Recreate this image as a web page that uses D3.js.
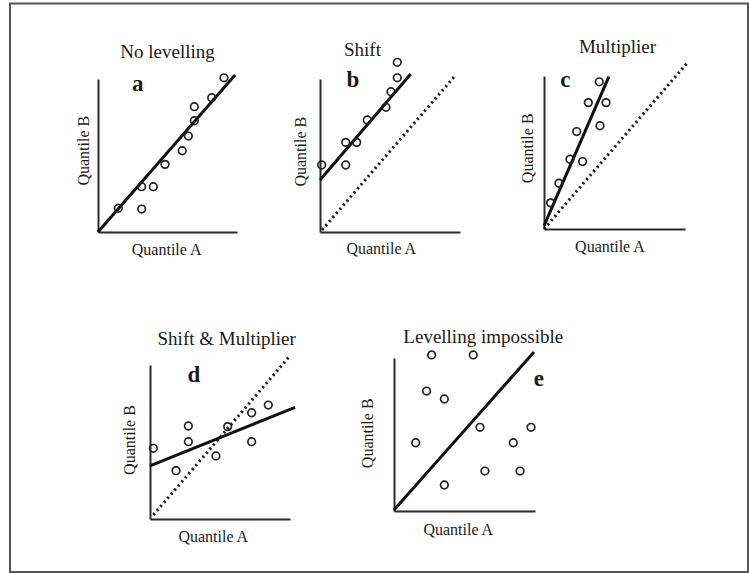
<!DOCTYPE html>
<html>
<head>
<meta charset="utf-8">
<script src="https://cdn.jsdelivr.net/npm/d3@7"></script>
<style>
  html, body { margin: 0; padding: 0; background: #fff; }
  svg { display: block; }
  text { font-family: "Liberation Serif", "Times New Roman", serif; fill: #1a1a1a; }
</style>
</head>
<body>
<svg id="chart" width="749" height="573"></svg>
<script>
// ---- data (axis units: each axis runs 0..10) ----
const panelIds = ["a", "b", "c", "d", "e"];
const panelTitles = ["No levelling", "Shift", "Multiplier", "Shift & Multiplier", "Levelling impossible"];
const xLabel = "Quantile A";
const yLabel = "Quantile B";

const pointsA = [[1.46,1.55],[3.14,2.96],[3.98,2.96],[3.14,1.50],[4.82,4.42],[6.06,5.31],[6.50,6.27],[6.93,7.27],[6.93,8.19],[8.18,8.78],[9.06,10.08]];
const pointsB = [[0.12,4.38],[1.84,4.38],[1.84,5.86],[2.62,5.86],[3.38,7.32],[4.71,8.15],[5.07,9.17],[5.52,10.08],[5.52,11.09]];
const pointsC = [[0.47,1.71],[1.06,2.99],[1.84,4.56],[2.74,4.41],[2.32,6.37],[3.97,6.75],[3.14,8.26],[4.40,8.26],[3.92,9.62]];
const pointsD = [[0.24,4.59],[1.86,3.14],[2.74,5.02],[2.74,6.04],[4.71,4.09],[5.55,6.00],[7.26,5.02],[7.26,6.90],[8.45,7.40]];
const pointsE = [[2.67,10.2],[5.62,10.2],[2.31,7.84],[3.57,7.32],[1.54,4.46],[6.10,5.47],[9.72,5.47],[8.46,4.46],[6.45,2.61],[8.94,2.61],[3.57,1.70]];

// fitted (solid) lines: [start, end]
const fitA = [[0,0],[9.86,10.26]];
const fitB = [[0,3.4],[6.48,10.33]];
const fitC = [[0,0.2],[4.60,9.96]];
const fitD = [[0,3.45],[10.36,7.25]];
const fitE = [[0,0.07],[9.93,10.39]];

// 1:1 reference (dotted) lines; null = not drawn
const refA = null;
const refB = [[0.14,0.13],[9.64,10.2]];
const refC = [[0,0],[10.24,10.94]];
const refD = [[0.24,0.26],[10,10.6]];
const refE = null;

const allPoints = [pointsA, pointsB, pointsC, pointsD, pointsE];
const allFits = [fitA, fitB, fitC, fitD, fitE];
const allRefs = [refA, refB, refC, refD, refE];

// ---- layout (pixels) ----
const layout = [
  { x0: 98,  y0: 232, w: 139, h: 153, title: [167.5, 58], id: [137.7, 91],  xl: [166.7, 255], yl: [89, 150.7] },
  { x0: 320, y0: 232, w: 140, h: 153, title: [362.5, 56], id: [353, 87.3],  xl: [381.3, 254], yl: [306, 151.7] },
  { x0: 544, y0: 229, w: 141, h: 153, title: [617.5, 52.7], id: [565.3, 86.7], xl: [610, 251.7], yl: [533, 148.3] },
  { x0: 150, y0: 519, w: 140, h: 154, title: [226.7, 345], id: [194, 381.7], xl: [213.3, 541.7], yl: [135, 440] },
  { x0: 394, y0: 511, w: 141, h: 153, title: [483.3, 343.3], id: [538.8, 386], xl: [458.3, 535], yl: [373, 433.3] }
];

const svg = d3.select("#chart");

// outer frame
svg.append("rect")
  .attr("x", 10).attr("y", 3.5).attr("width", 738).attr("height", 568.5)
  .attr("fill", "none").attr("stroke", "#555").attr("stroke-width", 2);

panelIds.forEach((pid, i) => {
  const L = layout[i];
  const x = d3.scaleLinear().domain([0, 10]).range([L.x0, L.x0 + L.w]);
  const y = d3.scaleLinear().domain([0, 10]).range([L.y0, L.y0 - L.h]);
  const g = svg.append("g");

  // axes (domain lines only)
  const xAxis = g.append("g").attr("transform", `translate(0,${L.y0})`)
    .call(d3.axisBottom(x).tickValues([]).tickSizeOuter(0));
  const yAxis = g.append("g").attr("transform", `translate(${L.x0},0)`)
    .call(d3.axisLeft(y).tickValues([]).tickSizeOuter(0));
  [xAxis, yAxis].forEach(a => a.select(".domain").attr("stroke", "#2a2a2a").attr("stroke-width", 2));

  const line = d3.line().x(d => x(d[0])).y(d => y(d[1]));

  if (allRefs[i]) {
    g.append("path").datum(allRefs[i]).attr("d", line)
      .attr("fill", "none").attr("stroke", "#222").attr("stroke-width", 3)
      .attr("stroke-dasharray", "2.2,3.2");
  }
  g.append("path").datum(allFits[i]).attr("d", line)
    .attr("fill", "none").attr("stroke", "#111").attr("stroke-width", 3);

  g.selectAll("circle").data(allPoints[i]).enter().append("circle")
    .attr("cx", d => x(d[0])).attr("cy", d => y(d[1])).attr("r", 3.8)
    .attr("fill", "none").attr("stroke", "#222").attr("stroke-width", 1.7);

  g.append("text").attr("x", L.title[0]).attr("y", L.title[1])
    .attr("text-anchor", "middle").attr("font-size", 19).text(panelTitles[i]);
  g.append("text").attr("x", L.id[0]).attr("y", L.id[1])
    .attr("text-anchor", "middle").attr("font-size", 23).attr("font-weight", "bold").text(pid);
  g.append("text").attr("x", L.xl[0]).attr("y", L.xl[1])
    .attr("text-anchor", "middle").attr("font-size", 16).text(xLabel);
  g.append("text").attr("transform", `translate(${L.yl[0]},${L.yl[1]}) rotate(-90)`)
    .attr("text-anchor", "middle").attr("font-size", 16).text(yLabel);
});
</script>
</body>
</html>
